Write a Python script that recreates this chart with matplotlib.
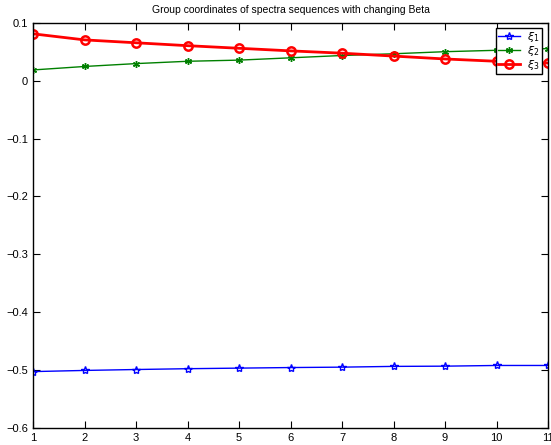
import numpy as np
import matplotlib
matplotlib.use("Agg")
import matplotlib.pyplot as plt

plt.rcParams["font.family"] = ["Liberation Sans", "DejaVu Sans"]

x = np.arange(1, 12)
xi1 = [-0.503, -0.501, -0.4994, -0.498, -0.497, -0.496, -0.4953, -0.494, -0.4936, -0.4924, -0.4924]
xi2 = [0.019, 0.025, 0.030, 0.034, 0.036, 0.040, 0.044, 0.047, 0.0506, 0.053, 0.056]
xi3 = [0.0815, 0.071, 0.066, 0.061, 0.0565, 0.052, 0.048, 0.043, 0.038, 0.034, 0.031]
labels = [r"$\xi_1$", r"$\xi_2$", r"$\xi_3$"]
title = "Group coordinates of spectra sequences with changing Beta"

fig = plt.figure(figsize=(5.51, 4.45), dpi=100)
ax = fig.add_axes([0.06, 0.039, 0.9346, 0.909])

ax.plot(x, xi1, color="blue", lw=1, marker="*", ms=6, mfc="none", mec="blue", label=labels[0])
ax.plot(x, xi2, color="green", lw=1, marker=(6, 2, 0), ms=5, mec="green", label=labels[1])
ax.plot(x, xi3, color="red", lw=2, marker="o", ms=6, mfc="none", mec="red", mew=1.8, label=labels[2])

ax.set_xlim(1, 11)
ax.set_ylim(-0.6, 0.1)
ax.set_xticks(x)
ax.set_yticks(np.round(np.arange(-0.6, 0.11, 0.1), 1))
ax.set_yticklabels(["\u22120.6", "\u22120.5", "\u22120.4", "\u22120.3", "\u22120.2", "\u22120.1", "0", "0.1"])
ax.tick_params(direction="in", top=True, right=True, labelsize=8, length=5)
for s in ax.spines.values():
    s.set_linewidth(1)
ax.set_title(title, fontsize=7.5, pad=7)

leg = ax.legend(loc="upper right", bbox_to_anchor=(0.988, 0.988), fancybox=False,
                edgecolor="black", framealpha=1, fontsize=8, handlelength=2.0,
                handletextpad=0.6, borderpad=0.2, labelspacing=0.0, borderaxespad=0)
leg.get_frame().set_linewidth(1)

fig.savefig("out.png", dpi=100)
